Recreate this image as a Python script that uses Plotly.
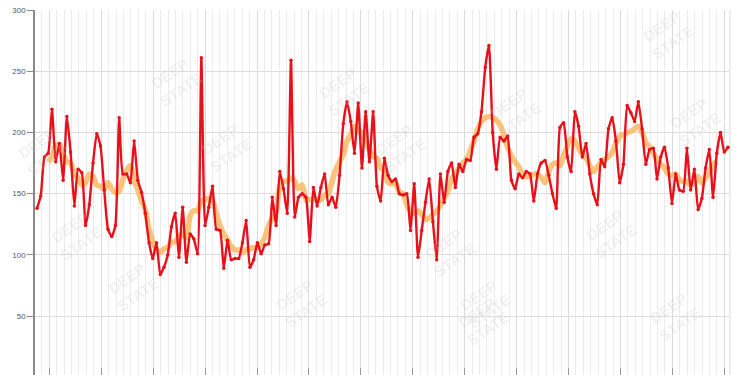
import plotly.graph_objects as go

# Daily values (red line)
daily = [138, 148, 180, 183, 219, 176, 191, 161, 213, 184,
         140, 170, 167, 124, 141, 175, 199, 189, 153, 121,
         115, 124, 212, 166, 166, 159, 193, 161, 151, 134,
         110, 97, 110, 84, 90, 100, 123, 134, 98, 139,
         94, 117, 113, 101, 261, 124, 139, 156, 121, 120,
         89, 112, 96, 97, 97, 110, 128, 90, 96, 110,
         101, 108, 109, 147, 124, 168, 154, 134, 259, 131,
         147, 150, 147, 111, 155, 140, 155, 166, 141, 147,
         139, 165, 207, 225, 209, 183, 224, 171, 217, 176,
         217, 156, 144, 179, 165, 160, 162, 150, 149, 150,
         120, 158, 98, 120, 143, 162, 127, 96, 166, 143,
         168, 175, 155, 174, 168, 178, 177, 196, 199, 217,
         253, 271, 200, 170, 196, 193, 197, 161, 154, 166,
         163, 168, 166, 144, 166, 175, 177, 165, 150, 138,
         204, 208, 180, 168, 217, 205, 180, 191, 166, 150,
         141, 178, 172, 203, 212, 193, 159, 174, 222, 216,
         209, 225, 203, 174, 186, 187, 162, 180, 188, 171,
         142, 166, 153, 152, 187, 153, 170, 137, 146, 171,
         186, 147, 183, 200, 184, 188]
day_index = list(range(len(daily)))

# Smoothed trend (orange line)
trend = [176, 180, 189, 190, 183, 176, 175, 166, 163, 157,
         159, 166, 164, 157, 156, 154, 159, 154, 151, 152,
         162, 169, 173, 161, 153, 144, 137, 121, 111, 104,
         102, 105, 106, 110, 111, 115, 117, 114, 132, 136,
         136, 144, 145, 146, 144, 134, 124, 117, 112, 107,
         104, 104, 102, 104, 105, 106, 106, 109, 114, 124,
         130, 135, 156, 160, 160, 163, 160, 154, 157, 145,
         145, 146, 145, 145, 149, 150, 160, 170, 176, 182,
         193, 198, 205, 201, 200, 192, 186, 180, 179, 171,
         169, 159, 158, 159, 151, 150, 141, 135, 134, 136,
         133, 129, 130, 133, 136, 140, 146, 152, 162, 166,
         171, 175, 178, 185, 193, 203, 209, 212, 213, 212,
         210, 206, 198, 188, 181, 176, 172, 166, 164, 164,
         166, 166, 163, 159, 168, 174, 175, 173, 181, 189,
         195, 193, 187, 182, 179, 173, 168, 172, 175, 178,
         180, 184, 191, 197, 198, 200, 201, 203, 205, 200,
         192, 188, 183, 178, 174, 171, 166, 165, 166, 161,
         160, 160, 157, 159, 164, 159, 163, 167, 174, 176]
trend_index = list(range(3, 3 + len(trend)))

y_ticks = [50, 100, 150, 200, 250, 300]

fig = go.Figure()
fig.add_trace(go.Scatter(
    x=trend_index, y=trend, mode="lines",
    line=dict(color="rgba(250,172,72,0.72)", width=5.5, shape="spline", smoothing=0.8),
    hoverinfo="skip", showlegend=False))
fig.add_trace(go.Scatter(
    x=day_index, y=daily, mode="lines+markers",
    line=dict(color="#e8101a", width=2.4, shape="spline", smoothing=0.5),
    marker=dict(color="#e8101a", size=3.5),
    showlegend=False))

# faint "DEEP STATE" watermarks (pixel positions converted to paper coords)
wm_px = [(143, 50), (193, 147), (343, 60), (400, 147), (547, 80), (727, 90),
         (700, 3), (43, 235), (100, 318), (450, 252), (300, 335), (483, 352),
         (643, 265), (517, 335), (707, 348), (10, 120)]
for px, py in wm_px:
    fig.add_annotation(
        x=(px - 35) / 695, y=(375 - py) / 365, xref="paper", yref="paper",
        text="<b>DEEP<br>STATE</b>", showarrow=False, textangle=-35,
        font=dict(size=15, color="rgba(200,200,200,0.25)", family="Arial, Liberation Sans"))

fig.add_shape(type="line", xref="paper", yref="paper", x0=1, x1=1, y0=0, y1=1,
              line=dict(color="#dcdcdc", width=1), layer="below")

fig.update_layout(
    width=750, height=375,
    margin=dict(l=35, r=20, t=10, b=0),
    paper_bgcolor="white", plot_bgcolor="white",
    font=dict(family="Arial, Liberation Sans", size=8, color="#555"),
    xaxis=dict(
        range=[-0.535, 185.535], showticklabels=False,
        tick0=3.3, dtick=13.9, ticks="inside", ticklen=7, tickcolor="#999",
        showgrid=True, gridcolor="#dadada", gridwidth=1,
        minor=dict(tick0=3.3, dtick=13.9 / 7, showgrid=True, gridcolor="#ebebeb", gridwidth=1),
        zeroline=False, showline=False, fixedrange=True),
    yaxis=dict(
        range=[1.9, 300], tickvals=y_ticks, ticks="outside", ticklen=6,
        tickcolor="#888", showline=True, linecolor="#888", linewidth=1.5,
        showgrid=True, gridcolor="#dddddd", zeroline=False,
        tickfont=dict(size=8, color="#555")),
)

fig.write_html("out.html")
